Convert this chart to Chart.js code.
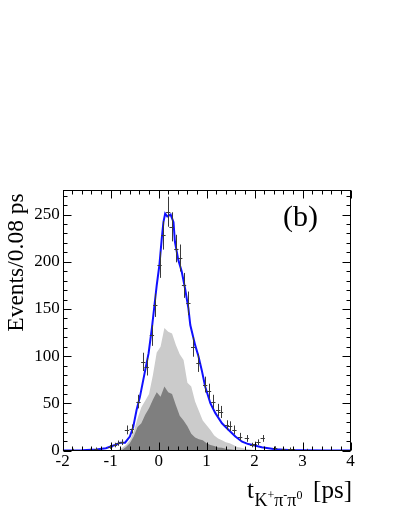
<!DOCTYPE html>
<html><head><meta charset="utf-8">
<script src="https://cdn.jsdelivr.net/npm/chart.js@4.4.1/dist/chart.umd.min.js"></script>
<style>html,body{margin:0;padding:0;background:#fff;} #c{display:block;}</style>
</head><body>
<canvas id="c" width="399" height="516"></canvas>
<script>
// ---- data ----
const binCenters = [
 -1.96,-1.88,-1.80,-1.72,-1.64,-1.56,-1.48,-1.40,-1.32,-1.24,
 -1.16,-1.08,-1.00,-0.92,-0.84,-0.76,-0.68,-0.60,-0.52,-0.44,
 -0.36,-0.28,-0.20,-0.12,-0.04,0.04,0.12,0.20,0.28,0.36,
 0.44,0.52,0.60,0.68,0.76,0.84,0.92,1.00,1.08,1.16,
 1.24,1.32,1.40,1.48,1.56,1.64,1.72,1.80,1.88,1.96,
 2.04,2.12,2.20,2.28,2.36,2.44,2.52,2.60,2.68,2.76,
 2.84,2.92,3.00,3.08,3.16,3.24,3.32,3.40,3.48,3.56,
 3.64,3.72,3.80,3.88,3.96];
const lightBkg = [
 0,0,0,0,0,0,0,0,0,0.1,
 0.1,0.2,0.3,0.5,1,3,6,11,20,34,
 46,53,60,80,104,110,130,126,124,112,
 102,96,72,68,52,42,32,27,22,16,
 13,11,9,8,6,4,3,2,1.5,1,
 0.8,0.5,0.3,0.2,0,0,0,0,0,0,
 0,0,0,0,0,0,0,0,0,0,
 0,0,0,0,0];
const darkBkg = [
 0,0,0,0,0,0,0,0,0,0,
 0,0,0,0,0.3,1,4,8,15,25,
 29,38,45,54,62,57,68,62,60,48,
 37,32,26,18,14,12,11,8,6,5,
 3.5,3,2,1.5,1,0.5,0.3,0.2,0,0,
 0,0,0,0,0,0,0,0,0,0,
 0,0,0,0,0,0,0,0,0,0,
 0,0,0,0,0];
const fitT = [-2.0,-1.6,-1.3,-1.1,-0.91,-0.8,-0.7,-0.6,-0.53,-0.46,-0.39,-0.32,-0.21,-0.14,-0.087,-0.04,0.017,0.066,0.1,0.136,0.18,0.25,0.31,0.34,0.41,0.48,0.55,0.62,0.66,0.76,0.83,0.9,0.97,1.08,1.18,1.32,1.46,1.6,1.74,1.87,2.0,2.15,2.43,2.7,3.0,3.5,4.0];
const fitV = [0.2,0.5,1.3,2.6,6,8.5,8.5,15,25,43,57,75,103,130,154,175,197,225,242,251,248,250,242,221,202,190,172,151,133,112,100,85,68,50,40,29,22,15,9.5,7,5.5,3.6,1.5,0.8,0.4,0.2,0.1];
const dataT = [-1.78,-1.43,-1.30,-1.01,-0.91,-0.84,-0.77,-0.66,-0.56,-0.42,-0.32,-0.25,-0.14,-0.07,0.02,0.10,0.20,0.27,0.37,0.45,0.53,0.62,0.72,0.83,0.97,1.05,1.14,1.24,1.30,1.42,1.49,1.58,1.70,1.84,1.95,2.00,2.08,2.17,2.43,2.60,2.74,2.80,3.10];
const dataN = [1,1,2,4,6,8,9,22,23,52,94,89,122,154,197,228,253,237,214,204,175,156,110,93,70,63,52,43,41,27,26,22,15,13,6,7,9,13,3,2,2,2,1];
const dataErr = [1,1,1.4,2,2.4,2.8,3,4.7,4.8,7.2,9.7,9.4,11,12.4,14,15.1,15.9,15.4,14.6,14.3,13.2,12.5,10.5,9.6,8.4,7.9,7.2,6.6,6.4,5.2,5.1,4.7,3.9,3.6,2.4,2.6,3,3.6,1.7,1.4,1.4,1.4,1];
const xTickLabels = [-2,-1,0,1,2,3,4];
const yTickLabels = [0,50,100,150,200,250];
const yTitle = 'Events/0.08 ps';
const panelLabel = '(b)';

const SERIF = '"Liberation Serif", "Times New Roman", serif';

const decor = {
  id: 'decor',
  afterDatasetsDraw(chart) {
    const ctx = chart.ctx, xs = chart.scales.x, ys = chart.scales.y, a = chart.chartArea;
    // data crosses
    ctx.save();
    ctx.beginPath(); ctx.rect(a.left, a.top, a.right - a.left, a.bottom - a.top); ctx.clip();
    ctx.strokeStyle = '#3a3a3a'; ctx.lineWidth = 1;
    for (let i = 0; i < dataT.length; i++) {
      const px = Math.round(xs.getPixelForValue(dataT[i])) + 0.5;
      const py = Math.round(ys.getPixelForValue(dataN[i])) + 0.5;
      const x1 = xs.getPixelForValue(dataT[i] - 0.045), x2 = xs.getPixelForValue(dataT[i] + 0.045);
      const y1 = ys.getPixelForValue(dataN[i] - dataErr[i]), y2 = ys.getPixelForValue(dataN[i] + dataErr[i]);
      ctx.beginPath();
      ctx.moveTo(x1, py); ctx.lineTo(x2, py);
      ctx.moveTo(px, y1); ctx.lineTo(px, y2);
      ctx.stroke();
    }
    ctx.restore();
    // frame and inward ticks
    ctx.save();
    ctx.strokeStyle = '#000'; ctx.lineWidth = 1;
    const L = Math.round(a.left) + 0.5, R = Math.round(a.right) - 0.5, T = Math.round(a.top) + 0.5, B = Math.round(a.bottom) - 0.5;
    ctx.strokeRect(L, T, R - L, B - T);
    ctx.beginPath();
    for (let k = 0; k <= 30; k++) {
      const v = -2 + k * 0.2;
      const major = (k % 5 === 0);
      const len = major ? 8 : 4;
      const px = Math.round(xs.getPixelForValue(v)) + 0.5;
      ctx.moveTo(px, B); ctx.lineTo(px, B - len);
      ctx.moveTo(px, T); ctx.lineTo(px, T + len);
    }
    for (let k = 0; k <= 27; k++) {
      const v = k * 10;
      const major = (k % 5 === 0);
      const len = major ? 8 : 4;
      const py = Math.round(ys.getPixelForValue(v)) + 0.5;
      ctx.moveTo(L, py); ctx.lineTo(L + len, py);
      ctx.moveTo(R, py); ctx.lineTo(R - len, py);
    }
    ctx.stroke();
    ctx.restore();
  },
  afterDraw(chart) {
    const ctx = chart.ctx;
    ctx.save();
    ctx.fillStyle = '#000';
    // y title
    ctx.save();
    ctx.translate(23, 262.5);
    ctx.rotate(-Math.PI / 2);
    ctx.font = '23.5px ' + SERIF;
    ctx.textAlign = 'center'; ctx.textBaseline = 'alphabetic';
    ctx.fillText(yTitle, 0, 0);
    ctx.restore();
    // x title
    ctx.textAlign = 'left'; ctx.textBaseline = 'alphabetic';
    let x = 247;
    ctx.font = '25px ' + SERIF;
    ctx.fillText('t', x, 498); x += ctx.measureText('t').width + 0.5;
    const parts = [['K', '+'], ['π', '-'], ['π', '0']];
    for (const [b, s] of parts) {
      ctx.font = '18px ' + SERIF; ctx.fillText(b, x, 506); x += ctx.measureText(b).width;
      ctx.font = '12px ' + SERIF; ctx.fillText(s, x, 499); x += ctx.measureText(s).width;
    }
    ctx.font = '25px ' + SERIF; ctx.textAlign = 'right';
    ctx.fillText('[ps]', 352, 498);
    // panel label
    ctx.textAlign = 'left';
    ctx.font = '30px ' + SERIF;
    ctx.fillText(panelLabel, 283, 226);
    ctx.restore();
  }
};

new Chart(document.getElementById('c'), {
  type: 'line',
  data: {
    datasets: [
      { label: 'data', data: dataT.map((t, i) => ({ x: t, y: dataN[i] })), showLine: false, pointRadius: 0, borderWidth: 0 },
      { label: 'fit', data: fitT.map((t, i) => ({ x: t, y: fitV[i] })), borderColor: '#1010ff', borderWidth: 2, pointRadius: 0, fill: false, tension: 0 },
      { label: 'bkg2', data: binCenters.map((t, i) => ({ x: t, y: darkBkg[i] })), borderWidth: 0, borderColor: 'rgba(0,0,0,0)', backgroundColor: '#7f7f7f', fill: 'origin', pointRadius: 0, tension: 0 },
      { label: 'bkg1', data: binCenters.map((t, i) => ({ x: t, y: lightBkg[i] })), borderWidth: 0, borderColor: 'rgba(0,0,0,0)', backgroundColor: '#cbcbcb', fill: 'origin', pointRadius: 0, tension: 0 }
    ]
  },
  options: {
    responsive: false, animation: false, devicePixelRatio: 1,
    layout: { padding: { left: 0, top: 190, right: 48.5, bottom: 0 } },
    plugins: { legend: { display: false }, tooltip: { enabled: false } },
    scales: {
      x: {
        type: 'linear', min: -2, max: 4,
        grid: { display: false, drawTicks: false }, border: { display: false },
        afterBuildTicks: s => { s.ticks = xTickLabels.map(v => ({ value: v })); },
        afterFit: s => { s.height = 65.3; },
        ticks: { font: { family: SERIF, size: 17 }, color: '#000', padding: 1, maxRotation: 0, autoSkip: false, callback: v => String(v) }
      },
      y: {
        type: 'linear', min: 0, max: 276,
        grid: { display: false, drawTicks: false }, border: { display: false },
        afterBuildTicks: s => { s.ticks = yTickLabels.map(v => ({ value: v })); },
        afterFit: s => { s.width = 62.7; },
        ticks: { font: { family: SERIF, size: 17 }, color: '#000', padding: 3, autoSkip: false, callback: v => String(v) }
      }
    }
  },
  plugins: [decor]
});
</script>
</body></html>
